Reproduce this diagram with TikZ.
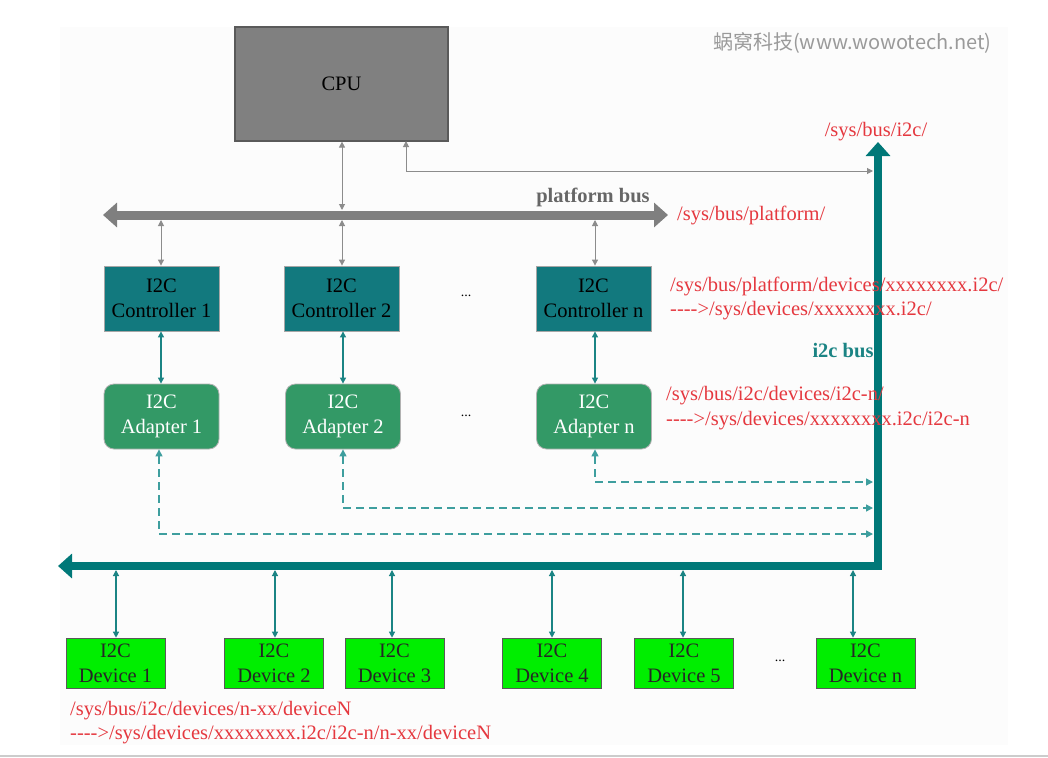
\documentclass[tikz,border=0pt]{standalone}
\usepackage{fontspec}
\setmainfont{Liberation Serif}
\newfontfamily\cjk{Noto Sans CJK SC}
\usetikzlibrary{arrows.meta}
\definecolor{panelbg}{HTML}{FCFCFC}
\definecolor{cpufill}{HTML}{808080}
\definecolor{cpuedge}{HTML}{5A5A5A}
\definecolor{ctrlfill}{HTML}{12797E}
\definecolor{adfill}{HTML}{339966}
\definecolor{devfill}{HTML}{00EE00}
\definecolor{teal2}{HTML}{007878}
\definecolor{tealline}{HTML}{1B8484}
\definecolor{tealdash}{HTML}{3E9E9E}
\definecolor{grayline}{HTML}{8C8C8C}
\definecolor{busgray}{HTML}{7F7F7F}
\definecolor{redtxt}{HTML}{E5383F}
\definecolor{wmgray}{HTML}{9A9A9A}
\tikzset{
  txt/.style={font=\fontsize{20.5}{25}\selectfont, align=center, inner sep=0pt},
  cpubox/.style={draw=cpuedge, fill=cpufill, line width=1.2pt, minimum width=213pt, minimum height=114pt, txt},
  ctrlbox/.style={draw=gray!70, fill=ctrlfill, line width=0.8pt, minimum width=115pt, minimum height=65pt, txt, text=black},
  adbox/.style={draw=gray!60, fill=adfill, line width=0.8pt, rounded corners=10pt, minimum width=115pt, minimum height=65pt, txt, text=white},
  devbox/.style={draw=gray!70!black, fill=devfill, line width=0.6pt, minimum width=99pt, minimum height=50pt, txt, text=black!85},
  redlbl/.style={txt, text=redtxt, anchor=west, align=left},
  thingray/.style={draw=grayline, line width=1pt, {Triangle[width=6pt,length=6pt]}-{Triangle[width=6pt,length=6pt]}},
  thinteal/.style={draw=tealline, line width=1.2pt, {Triangle[width=6pt,length=6pt]}-{Triangle[width=6pt,length=6pt]}},
  dashteal/.style={draw=tealdash, line width=1.4pt, dash pattern=on 8pt off 5pt, {Triangle[width=7pt,length=7pt]}-{Triangle[width=7pt,length=7pt]}},
  dots/.style={txt, font=\fontsize{14}{16}\selectfont}
}
\newcommand{\arr}{-{}-{}-{}-{}>}
\begin{document}
\begin{tikzpicture}[x=1pt, y=-1pt]
\useasboundingbox (0,0) rectangle (1048,757);
\fill[white] (0,0) rectangle (1048,757);
\fill[panelbg] (60,27) rectangle (1008,745);
\draw[gray!40, line width=2pt] (0,755.5) -- (1048,755.5);

% watermark
\node[font=\cjk\fontsize{20}{22}\selectfont, text=wmgray, anchor=west, inner sep=0pt] (wm) at (713,43) {蜗窝科技(www.wowotech.net)};

% CPU
\node[cpubox] (cpu) at (341.5,84) {CPU};

% platform bus
\coordinate (pbL) at (103,215);
\coordinate (pbR) at (668,215);
\draw[busgray, line width=9pt, {Triangle[width=24pt,length=14pt]}-{Triangle[width=24pt,length=14pt]}] (pbL) -- (pbR);
\node[txt, font=\bfseries\fontsize{20.5}{25}\selectfont, text=gray!80!black] (pblbl) at (593,197) {platform bus};
\node[redlbl] (pbpath) at (677,215) {/sys/bus/platform/};

% i2c bus
\coordinate (ibL) at (58,566);
\coordinate (ibC) at (878,566);
\coordinate (ibT) at (878,142);
\draw[teal2, line width=8pt, line join=miter, {Triangle[width=24pt,length=14pt]}-{Triangle[width=24pt,length=14pt]}] (ibL) -- (ibC) -- (ibT);
\node[txt, text=redtxt] (i2cpath) at (876,132) {/sys/bus/i2c/};
\node[txt, font=\bfseries\fontsize{20.5}{25}\selectfont, text=tealline] (i2clbl) at (843,351) {i2c bus};

% controllers
\node[ctrlbox] (c1) at (161.5,298.5) {I2C\\Controller 1};
\node[ctrlbox] (c2) at (341.5,298.5) {I2C\\Controller 2};
\node[ctrlbox] (cn) at (593.5,298.5) {I2C\\Controller n};
\node[dots] (cdots) at (466,296) {...};

% adapters
\node[adbox] (a1) at (161.5,416.5) {I2C\\Adapter 1};
\node[adbox] (a2) at (343,416.5) {I2C\\Adapter 2};
\node[adbox] (an) at (594,416.5) {I2C\\Adapter n};
\node[dots] (adots) at (466,416) {...};

% devices
\node[devbox] (d1) at (115.5,663) {I2C\\Device 1};
\node[devbox] (d2) at (274,663) {I2C\\Device 2};
\node[devbox] (d3) at (394.5,663) {I2C\\Device 3};
\node[devbox] (d4) at (552,663) {I2C\\Device 4};
\node[devbox] (d5) at (684,663) {I2C\\Device 5};
\node[devbox] (dn) at (865.5,663) {I2C\\Device n};
\node[dots] (ddots) at (780,661) {...};

% red labels
\node[redlbl] (r1) at (670,286) {/sys/bus/platform/devices/xxxxxxxx.i2c/};
\node[redlbl] (r2) at (670,311) {\arr/sys/devices/xxxxxxxx.i2c/};
\node[redlbl] (r3) at (666,396) {/sys/bus/i2c/devices/i2c-n/};
\node[redlbl] (r4) at (666,421) {\arr/sys/devices/xxxxxxxx.i2c/i2c-n};
\node[redlbl] (r5) at (70,711) {/sys/bus/i2c/devices/n-xx/deviceN};
\node[redlbl] (r6) at (70,735) {\arr/sys/devices/xxxxxxxx.i2c/i2c-n/n-xx/deviceN};

% CPU connectors
\coordinate (cpuB) at (342,210);
\draw[thingray] (cpu.south -| cpuB) -- (cpuB);
\coordinate (cpuI) at (873,171);
\coordinate (cpuS) at (406,141);
\draw[thingray] (cpuS) -- (cpuS |- cpuI) -- (cpuI);

% platform bus to controllers
\coordinate (p1) at (161,220);
\coordinate (p2) at (342,220);
\coordinate (p3) at (595,220);
\draw[thingray] (p1) -- (p1 |- c1.north);
\draw[thingray] (p2) -- (p2 |- c2.north);
\draw[thingray] (p3) -- (p3 |- cn.north);

% controller to adapter
\draw[thinteal] (c1.south -| p1) -- (a1.north -| p1);
\draw[thinteal] (c2.south -| 343,0) -- (a2.north -| 343,0);
\draw[thinteal] (cn.south -| p3) -- (an.north -| p3);

% adapters to i2c bus (dashed)
\coordinate (dashN) at (873,482);
\coordinate (dashB) at (873,508);
\coordinate (dashA) at (873,534);
\draw[dashteal] (an.south -| 595,0) -- (595,482) -- (dashN);
\draw[dashteal] (a2.south -| 343,0) -- (343,508) -- (dashB);
\draw[dashteal] (a1.south -| 159,0) -- (159,534) -- (dashA);

% i2c bus to devices
\coordinate (b1) at (116,570);
\coordinate (b2) at (275,570);
\coordinate (b3) at (392,570);
\coordinate (b4) at (552,570);
\coordinate (b5) at (683,570);
\coordinate (b6) at (853,570);
\draw[thinteal] (b1) -- (b1 |- d1.north);
\draw[thinteal] (b2) -- (b2 |- d2.north);
\draw[thinteal] (b3) -- (b3 |- d3.north);
\draw[thinteal] (b4) -- (b4 |- d4.north);
\draw[thinteal] (b5) -- (b5 |- d5.north);
\draw[thinteal] (b6) -- (b6 |- dn.north);
\end{tikzpicture}
\end{document}
